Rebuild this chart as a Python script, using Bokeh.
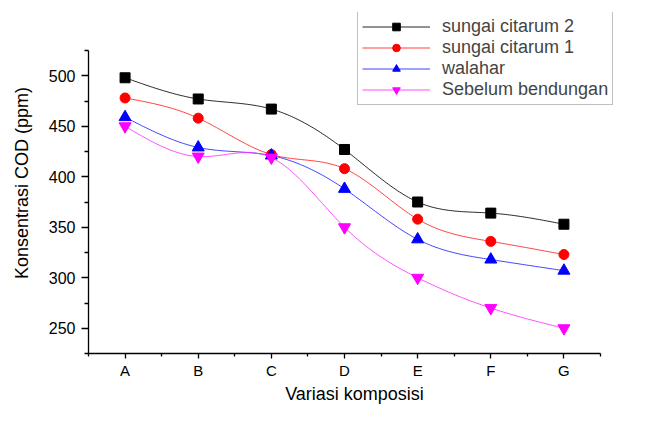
import numpy as np
from bokeh.plotting import figure
from bokeh.models import FixedTicker, Range1d, Legend
from bokeh.embed import file_html
from bokeh.resources import INLINE

categories = ["A", "B", "C", "D", "E", "F", "G"]
citarum2 = [498, 477, 467, 427, 375, 364, 353]
citarum1 = [478, 458, 422, 408, 358, 336, 323]
walahar = [459, 429, 421, 388, 338, 318, 307]
sebelum = [450, 420, 419, 350, 300, 270, 250]
series_names = ["sungai citarum 2", "sungai citarum 1", "walahar", "Sebelum bendungan"]
y_ticks = [250, 300, 350, 400, 450, 500]
y_bounds = (225, 525)
x_bounds = (-0.5, 6.5)

FONT = "Liberation Sans"


def natural_spline(xs, ys, n=40):
    xs = np.asarray(xs, float)
    ys = np.asarray(ys, float)
    k = len(xs)
    h = np.diff(xs)
    A = np.zeros((k, k))
    b = np.zeros(k)
    A[0, 0] = 1
    A[-1, -1] = 1
    for i in range(1, k - 1):
        A[i, i - 1] = h[i - 1]
        A[i, i] = 2 * (h[i - 1] + h[i])
        A[i, i + 1] = h[i]
        b[i] = 6 * ((ys[i + 1] - ys[i]) / h[i] - (ys[i] - ys[i - 1]) / h[i - 1])
    M = np.linalg.solve(A, b)
    out_x, out_y = [], []
    for i in range(k - 1):
        t = np.linspace(xs[i], xs[i + 1], n, endpoint=(i == k - 2))
        a = xs[i + 1] - t
        c = t - xs[i]
        yy = (M[i] * a ** 3 / (6 * h[i]) + M[i + 1] * c ** 3 / (6 * h[i])
              + (ys[i] / h[i] - M[i] * h[i] / 6) * a
              + (ys[i + 1] / h[i] - M[i + 1] * h[i] / 6) * c)
        out_x.extend(t)
        out_y.extend(yy)
    return out_x, out_y


x = list(range(len(categories)))

# Frame: left 88 .. right 620, top 12 .. bottom ~353; axes drawn only over bounds
W, H = 635, 406
left, right, top, bottom = 88, 15, 12, 53
frame_w = W - left - right
frame_h = H - top - bottom
x_px_end = 600 - left          # where x bound end sits inside frame
x_per_px = (x_bounds[1] - x_bounds[0]) / x_px_end
y_px_top = 50 - top            # where y bound top sits inside frame
y_per_px = (y_bounds[1] - y_bounds[0]) / (frame_h - y_px_top)

p = figure(width=W, height=H, output_backend="svg", toolbar_location=None,
           x_range=Range1d(x_bounds[0], x_bounds[0] + frame_w * x_per_px),
           y_range=Range1d(y_bounds[0], y_bounds[0] + frame_h * y_per_px),
           min_border_left=left, min_border_right=right, min_border_top=top,
           min_border_bottom=bottom)
p.outline_line_color = None
p.xgrid.visible = False
p.ygrid.visible = False
p.background_fill_color = "white"
p.border_fill_color = "white"

styles = [
    (citarum2, "#000000", "#000000", "square", 10),
    (citarum1, "#ff2020", "#ff0000", "circle", 10),
    (walahar, "#2020ff", "#0000ff", "triangle", 12),
    (sebelum, "#ff30ff", "#ff00ff", "inverted_triangle", 12),
]
items = []
for (vals, lc, mc, marker, size), name in zip(styles, series_names):
    sx, sy = natural_spline(x, vals)
    r1 = p.line(sx, sy, line_color=lc, line_width=1, line_alpha=0.85)
    r2 = p.scatter(x, vals, marker=marker, size=size, fill_color=mc, line_color=mc)
    items.append((name, [r1, r2]))

legend = Legend(items=items, location=(269, frame_h + top - 105))
legend.label_text_font = FONT
legend.label_text_font_size = "18px"
legend.label_height = 19
legend.glyph_height = 19
legend.glyph_width = 68
legend.label_standoff = 12
legend.spacing = 0
legend.padding = 4
legend.margin = 0
legend.border_line_color = "#808080"
legend.border_line_width = 1
legend.background_fill_alpha = 1
p.add_layout(legend)

p.xaxis.ticker = FixedTicker(ticks=x, minor_ticks=[i - 0.5 for i in range(len(categories) + 1)])
p.xaxis.major_label_overrides = {i: c for i, c in enumerate(categories)}
p.yaxis.ticker = FixedTicker(ticks=y_ticks, minor_ticks=[v - 25 for v in y_ticks] + [525])
p.xaxis.bounds = x_bounds
p.yaxis.bounds = y_bounds

for ax in (p.xaxis[0], p.yaxis[0]):
    ax.axis_line_color = "black"
    ax.axis_line_width = 1.3
    ax.major_tick_line_color = "black"
    ax.minor_tick_line_color = "black"
    ax.major_tick_line_width = 1.3
    ax.minor_tick_line_width = 1.3
    ax.major_tick_in = 0
    ax.minor_tick_in = 0
    ax.major_label_text_font = FONT
    ax.major_label_text_color = "black"
    ax.axis_label_text_font = FONT
    ax.axis_label_text_font_style = "normal"
    ax.axis_label_text_color = "black"

p.xaxis.axis_label = "Variasi komposisi"
p.xaxis.axis_label_text_font_size = "18px"
p.xaxis.major_label_text_font_size = "15px"
p.xaxis.major_tick_out = 5
p.xaxis.minor_tick_out = 3
p.xaxis.major_label_standoff = 3
p.xaxis.axis_label_standoff = 2

p.yaxis.axis_label = "Konsentrasi COD (ppm)"
p.yaxis.axis_label_text_font_size = "18px"
p.yaxis.major_label_text_font_size = "16px"
p.yaxis.major_tick_out = 7
p.yaxis.minor_tick_out = 4
p.yaxis.major_label_standoff = 6
p.yaxis.axis_label_standoff = 14

open("out.html", "w").write(file_html(p, INLINE))
